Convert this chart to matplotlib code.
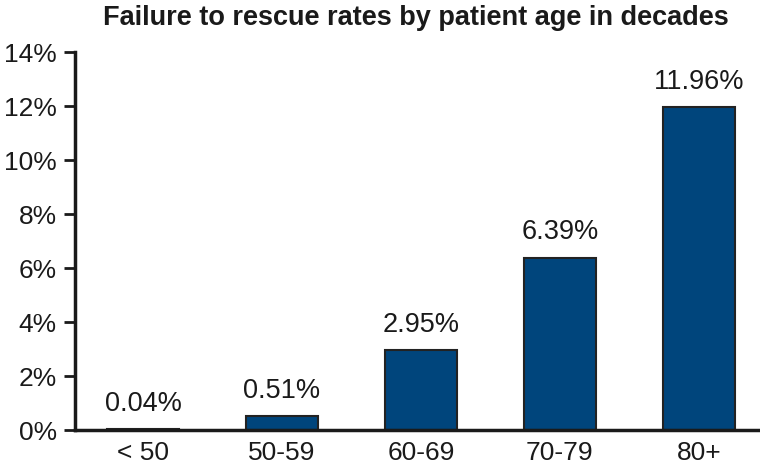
"""Failure to rescue rates by patient age in decades."""

import matplotlib

matplotlib.use("Agg")
import matplotlib.pyplot as plt
from matplotlib.ticker import FuncFormatter

age_groups = ["< 50", "50-59", "60-69", "70-79", "80+"]
ftr_rates = [0.04, 0.51, 2.95, 6.39, 11.96]
rate_labels = ["0.04%", "0.51%", "2.95%", "6.39%", "11.96%"]
y_ticks = [0, 2, 4, 6, 8, 10, 12, 14]

plt.rcParams["font.family"] = ["Liberation Sans", "DejaVu Sans"]

fig = plt.figure(figsize=(7.6, 4.7), dpi=100)
ax = fig.add_axes([0.0987, 0.085, 0.9013, 0.804])

x = range(len(age_groups))
bars = ax.bar(
    x,
    ftr_rates,
    width=0.52,
    color="#00457c",
    edgecolor="#222222",
    linewidth=1.5,
)

for bar, label in zip(bars, rate_labels):
    ax.text(
        bar.get_x() + bar.get_width() / 2,
        bar.get_height() + 0.45,
        label,
        ha="center",
        va="bottom",
        fontsize=19.5,
        color="#1a1a1a",
    )

ax.set_xlim(-0.49, 4.44)
ax.set_ylim(0, 14)
ax.set_yticks(y_ticks)
ax.yaxis.set_major_formatter(FuncFormatter(lambda v, _: f"{v:.0f}%"))
ax.set_xticks(list(x))
ax.set_xticklabels(age_groups)

ax.tick_params(axis="y", length=8, width=2, labelsize=19, pad=5, colors="#1a1a1a")
ax.tick_params(axis="x", length=0, labelsize=19, pad=8, colors="#1a1a1a")

for side in ("top", "right"):
    ax.spines[side].set_visible(False)
for side in ("left", "bottom"):
    ax.spines[side].set_linewidth(2.5)
    ax.spines[side].set_color("#1a1a1a")

fig.text(
    0.547,
    0.962,
    "Failure to rescue rates by patient age in decades",
    ha="center",
    va="center",
    fontsize=19.5,
    fontweight="bold",
    color="#1a1a1a",
)

plt.savefig("out.png", dpi=100)
plt.close()
